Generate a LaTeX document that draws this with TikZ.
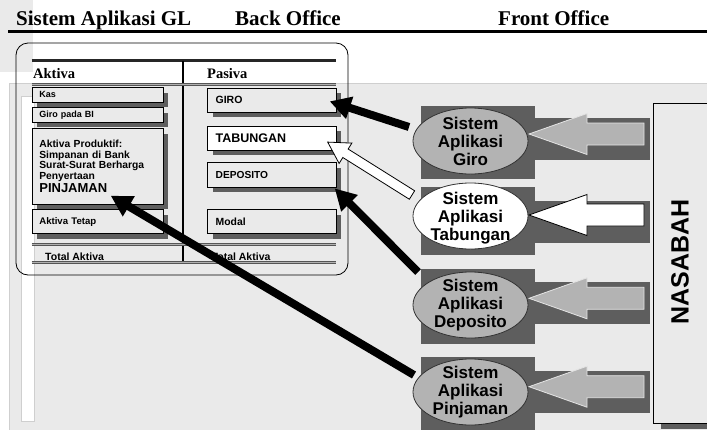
\documentclass[tikz,border=0pt]{standalone}
\usepackage{fontspec}
\setmainfont{Liberation Serif}
\setsansfont{Liberation Sans}
\usepackage{graphicx}
\usetikzlibrary{arrows.meta,calc,shapes.geometric,shadows}
\definecolor{bgg}{HTML}{EAEAEA}
\definecolor{shd}{HTML}{5E5E5E}
\definecolor{elg}{HTML}{B3B3B3}
\definecolor{brd}{HTML}{CFCFCF}
\definecolor{dln}{HTML}{555555}
\definecolor{lln}{HTML}{B0B0B0}
\definecolor{aol}{HTML}{E4E4E4}
\pgfdeclarelayer{bglayer}
\pgfdeclarelayer{tablayer}
\pgfdeclarelayer{arrlayer}
\pgfsetlayers{bglayer,tablayer,arrlayer,main}
\newcommand\blkarrow[3]{%
  \filldraw[fill=#2, draw=#3, line width=0.8pt, line join=miter]
   (529,#1) -- (587,{#1-20.5}) -- (587,{#1-11}) -- (644,{#1-11}) -- (644,{#1+11}) -- (587,{#1+11}) -- (587,{#1+20.5}) -- cycle;}
\begin{document}
\begin{tikzpicture}[x=1pt,y=-1pt,
 title/.style={font=\bfseries\fontsize{21}{24}\selectfont, anchor=base west, inner sep=0pt},
 hdr/.style={font=\bfseries\fontsize{14.5}{16}\selectfont, anchor=base west, inner sep=0pt},
 itembox/.style={draw=black, line width=0.7pt, fill=bgg, anchor=north west, inner xsep=7pt, inner ysep=0pt, align=left, font=\sffamily\bfseries, drop shadow={shadow xshift=5pt, shadow yshift=-5pt, fill=shd, opacity=1}},
 lbox/.style={itembox, minimum width=131pt, text width=117pt},
 rbox/.style={itembox, minimum width=128.7pt, text width=112.7pt, inner xsep=8pt},
 dbl/.style={draw=dln, line width=1pt, double=lln, double distance=1pt},
 ell/.style={ellipse, draw=black!80, line width=0.8pt, minimum width=115pt, minimum height=66pt, inner sep=0pt},
 etext/.style={font=\sffamily\bfseries\fontsize{17}{18}\selectfont, align=center, inner sep=0pt},
 blk/.style={line width=8pt, -{Triangle[length=21pt,width=22pt]}},
 totl/.style={font=\sffamily\bfseries\fontsize{10.5}{12}\selectfont, anchor=west, inner sep=0pt},
]
\useasboundingbox (0,0) rectangle (707,429);
% background
\begin{pgfonlayer}{bglayer}
\fill[white] (0,0) rectangle (707,429);
\fill[bgg] (0,0) rectangle (33,72);
\filldraw[fill=bgg, draw=brd, line width=0.6pt] (9,83) rectangle (720,440);
\filldraw[fill=white, draw=brd, line width=0.6pt] (21.5,96) rectangle (34,421);
\end{pgfonlayer}
% titles
\node[title] (tGL) at (16,25) {Sistem Aplikasi GL};
\node[title] (tBO) at (235,25) {Back Office};
\node[title] (tFO) at (498,25) {Front Office};
\draw[line width=2.5pt] (8,31.5) -- (707,31.5);
% balance sheet
\begin{pgfonlayer}{tablayer}
\draw[line width=0.8pt, rounded corners=12pt] (16,43) rectangle (348,275);
\draw[line width=3pt, color=black!85] (31.5,60.5) -- (336,60.5);
\draw[line width=1.5pt] (183,60.5) -- (183,262);
\draw[dbl] (31.5,84.5) -- (336,84.5);
\draw[dbl] (31.5,244) -- (336,244);
\draw[dbl] (31.5,262) -- (336,262);
\node[hdr] (hA) at (33,78) {Aktiva};
\node[hdr] (hP) at (207,78) {Pasiva};
\node[lbox, minimum height=14.4pt, font=\sffamily\bfseries\fontsize{9}{10}\selectfont] (bKas) at (32,87.3) {Kas};
\node[lbox, minimum height=14.4pt, font=\sffamily\bfseries\fontsize{9}{10}\selectfont] (bGBI) at (32,107.3) {Giro pada BI};
\node[lbox, minimum height=75.7pt, font=\sffamily\bfseries\fontsize{10.3}{10.6}\selectfont] (bAP) at (32,128.3)
  {Aktiva Produktif:\\Simpanan di Bank\\Surat-Surat Berharga\\Penyertaan\\[1.5pt]{\fontsize{13}{10.6}\selectfont PINJAMAN}};
\node[lbox, minimum height=24pt, font=\sffamily\bfseries\fontsize{9.6}{10}\selectfont] (bAT) at (32,209.3) {Aktiva Tetap};
\node[rbox, minimum height=24pt, font=\sffamily\bfseries\fontsize{10.5}{11}\selectfont] (bGIRO) at (207.3,88) {GIRO};
\node[rbox, fill=white, minimum height=24.5pt, font=\sffamily\bfseries\fontsize{12.5}{13}\selectfont] (bTAB) at (207.3,125.5) {TABUNGAN};
\node[rbox, minimum height=24.4pt, font=\sffamily\bfseries\fontsize{10.2}{11}\selectfont] (bDEP) at (207.3,162.3) {DEPOSITO};
\node[rbox, minimum height=24pt, font=\sffamily\bfseries\fontsize{10.4}{11}\selectfont] (bMOD) at (207.3,209.3) {Modal};
\node[totl] (tTL) at (45,256.5) {Total Aktiva};
\node[totl] (tTR) at (211.5,256.5) {Total Aktiva};
\end{pgfonlayer}
% NASABAH
\node[draw=black, line width=0.8pt, fill=bgg, anchor=north west, minimum width=70pt, minimum height=320pt, inner sep=0pt,
  drop shadow={shadow xshift=8pt, shadow yshift=-6pt, fill=shd, opacity=1}] (nas) at (653,103) {};
\node[rotate=90, font=\sffamily\bfseries\fontsize{25}{25}\selectfont, inner sep=0pt] (tNas) at (680,262) {NASABAH};
% shadow squares and arrow backs
\fill[shd] (420.5,106) rectangle (534.5,179);
\fill[shd] (420.5,187) rectangle (534.5,255);
\fill[shd] (420.5,269) rectangle (534.5,344);
\fill[shd] (420.5,357) rectangle (534.5,432);
\fill[shd] (535,118) rectangle (650,160);
\fill[shd] (535,201) rectangle (650,243);
\fill[shd] (535,282) rectangle (650,324);
\fill[shd] (535,371) rectangle (650,413);
\blkarrow{134}{elg}{aol}
\blkarrow{215}{white}{black}
\blkarrow{298.3}{elg}{aol}
\blkarrow{386.7}{elg}{aol}
% ellipses
\node[ell, fill=elg] (eGiro) at (470.5,141) {};
\node[ell, fill=white] (eTab) at (470.5,216) {};
\node[ell, fill=elg] (eDep) at (470.5,305) {};
\node[ell, fill=elg] (ePin) at (470.5,392) {};
\node[etext] (xGiro) at (eGiro) {Sistem\\Aplikasi\\Giro};
\node[etext] (xTab) at ([yshift=-2pt]eTab.center) {Sistem\\Aplikasi\\Tabungan};
\node[etext] (xDep) at (eDep) {Sistem\\Aplikasi\\Deposito};
\node[etext] (xPin) at (ePin) {Sistem\\Aplikasi\\Pinjaman};
% connectors
\begin{pgfonlayer}{arrlayer}
\draw[blk] ([shift={(-61.5,-14)}]eGiro.center) -- ([shift={(-7,1)}]bGIRO.east);
\draw[blk] ([shift={(-52.5,-33)}]eDep.center) -- ([shift={(-2,1)}]bDEP.south east);
\draw[blk] ([shift={(-56.5,-17)}]ePin.center) -- ([shift={(-53,-9)}]bAP.south east);
\coordinate (wT) at ([shift={(-58.5,-21)}]eTab.center);
\coordinate (wH) at ([shift={(-9,4)}]bTAB.east);
\coordinate (wB) at ($(wH)!21pt!(wT)$);
\filldraw[fill=white, draw=black, line width=0.8pt, line join=miter]
  ($(wT)!5pt!90:(wH)$) -- ($(wB)!5pt!90:(wH)$) -- ($(wB)!12pt!90:(wH)$) -- (wH)
  -- ($(wB)!12pt!-90:(wH)$) -- ($(wB)!5pt!-90:(wH)$) -- ($(wT)!5pt!-90:(wH)$) -- cycle;
\end{pgfonlayer}
\end{tikzpicture}
\end{document}
